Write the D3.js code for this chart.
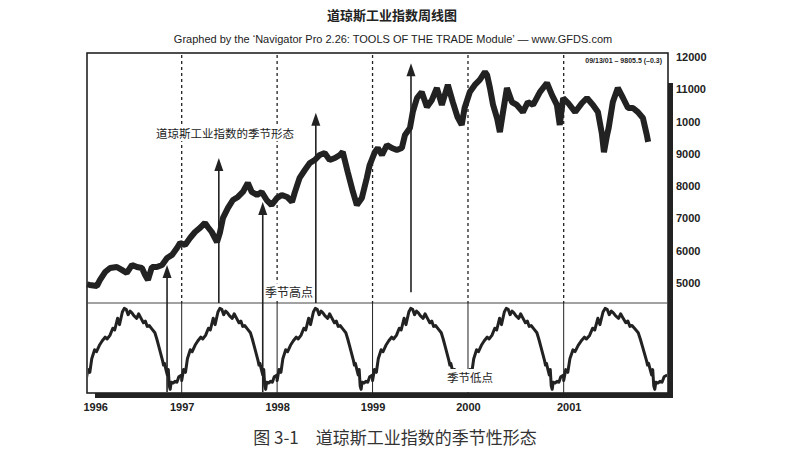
<!DOCTYPE html>
<html>
<head>
<meta charset="utf-8">
<script src="https://cdn.jsdelivr.net/npm/d3@7"></script>
<style>
  body { margin: 0; background: #fff; }
  svg { display: block; font-family: "Liberation Sans", Arial, sans-serif; }
  .cjk { font-family: "Noto Sans CJK SC", sans-serif; }
</style>
</head>
<body>
<svg id="chart" width="786" height="469"></svg>
<script>
// weekly Dow readings
const priceDates = [
  "1996-01-05","1996-01-15","1996-02-12","1996-02-23","1996-03-14","1996-04-02","1996-04-28","1996-05-17","1996-06-05","1996-06-25",
  "1996-07-14","1996-08-02","1996-08-14","1996-08-25","1996-09-09","1996-09-28","1996-10-18","1996-11-06","1996-11-25","1996-12-14","1996-12-26",
  "1997-01-14","1997-02-02","1997-02-21","1997-03-12","1997-03-31","1997-04-11","1997-04-26","1997-05-16","1997-05-27","1997-06-08",
  "1997-06-27","1997-07-16","1997-08-04","1997-08-23","1997-09-11","1997-09-26","1997-10-16","1997-11-03","1997-11-22","1997-12-11",
  "1998-01-01","1998-01-19","1998-02-08","1998-02-27","1998-03-09","1998-03-28","1998-04-17","1998-05-06","1998-05-25","1998-06-13",
  "1998-07-02","1998-07-21","1998-08-10","1998-08-29","1998-09-09","1998-09-28","1998-10-18","1998-11-02","1998-11-21","1998-12-10","1998-12-21",
  "1999-01-10","1999-01-21","1999-02-06","1999-02-25","1999-03-16","1999-04-04","1999-04-23","1999-05-05","1999-05-24","1999-06-04",
  "1999-06-20","1999-07-08","1999-07-28","1999-08-16","1999-09-04","1999-09-23","1999-10-16","1999-11-04","1999-11-22","1999-12-08","1999-12-19",
  "2000-01-08","2000-01-27","2000-02-15","2000-03-06","2000-03-14","2000-03-25","2000-04-06","2000-04-21","2000-05-02","2000-05-14",
  "2000-05-29","2000-06-17","2000-07-06","2000-07-29","2000-08-17","2000-09-06","2000-10-02","2000-10-29","2000-11-17","2000-12-06","2000-12-17","2000-12-30",
  "2001-01-18","2001-02-14","2001-03-12","2001-03-31","2001-04-23","2001-05-12","2001-05-27","2001-06-04","2001-06-16","2001-06-22",
  "2001-07-08","2001-07-27","2001-08-16","2001-09-04","2001-09-23","2001-10-12","2001-10-31","2001-11-15","2001-11-20"
];
const priceValues = [
  4960, 4940, 4910, 5090, 5340, 5465, 5495, 5405, 5310, 5560,
  5495, 5465, 5250, 5095, 5495, 5495, 5560, 5775, 5870, 6085, 6240,
  6180, 6395, 6580, 6705, 6860, 6735, 6580, 6270, 6550, 7015,
  7325, 7570, 7665, 7820, 8100, 7820, 7725, 7820, 7570, 7415,
  7635, 7725, 7665, 7510, 7790, 8255, 8500, 8715, 8810, 8965,
  9025, 8810, 8870, 8965, 9060, 8440, 7820, 7415, 7635, 8255, 8655,
  9060, 9180, 8965, 9275, 9180, 9120, 9180, 9585, 9800, 10300,
  10730, 10915, 10450, 10670, 11040, 10515, 11135, 10605, 10140, 9895, 10420,
  10915, 11135, 11290, 11535, 11445, 11040, 10515, 10110, 9675, 10295,
  11040, 10605, 10515, 10295, 10605, 10515, 10915, 11195, 10825, 10515, 9895, 10730,
  10575, 10295, 10575, 10730, 10515, 10295, 9630, 9050, 9585, 9800,
  10605, 11040, 10730, 10420, 10420, 10295, 10110, 9585, 9370
];

const priceTicks = [5000, 6000, 7000, 8000, 9000, 10000, 11000, 12000];
const priceTickLabels = ["5000", "6000", "7000", "8000", "9000", "1000", "11000", "12000"];
const yearLabels = ["1996", "1997", "1998", "1999", "2000", "2001"];

// one seasonal cycle (share of the cycle, oscillator level 0-100)
const seasonalPos = [0, .02, .04, .06, .09, .11, .14, .17, .20, .22, .25, .28, .30, .33, .35, .38, .40, .42, .44, .46,
  .48, .50, .53, .55, .57, .60, .62, .64, .66, .69, .72, .74, .76, .78, .80, .81, .82, .84, .85, .86, .87, .88, .89, .91, .93, .95, .97, 1];
const seasonalValues = [14, 26, 23, 38, 48, 46, 53, 58, 62, 60, 64, 72, 70, 83, 76, 90, 94, 93, 87, 91,
  89, 86, 83, 88, 84, 78, 80, 74, 75, 71, 67, 60, 52, 44, 36, 31, 33, 24, 20, 26, 8, 4, 12, 11, 13, 12, 18, 20];
const cycleStarts = ["1996-01-01", "1997-01-01", "1998-01-01", "1999-01-01", "2000-01-01", "2001-01-01"];
const cycleEnds   = ["1997-01-01", "1998-01-01", "1999-01-01", "2000-01-01", "2001-01-01", "2002-02-01"];

// arrows: date, price at the head, oscillator level at the tail
const arrowDates = ["1996-11-06", "1997-05-23", "1997-11-07", "1998-05-29", "1999-05-28"];
const arrowTips  = [5560, 8870, 7510, 10270, 11810];
const arrowTails = [1, 100, 1, 100, 112];

const parse = d3.timeParse("%Y-%m-%d");
const svg = d3.select("#chart");
const box = { left: 87, right: 668, top: 53, mid: 303, bottom: 393 };
const ink = "#222";

const x = d3.scaleTime()
  .domain([parse("1996-01-01"), parse("2002-02-04")])
  .range([86, 668]);
const y = d3.scaleLinear().domain([5000, 12000]).range([283, 57]);
const osc = d3.scaleLinear().domain([0, 100]).range([393, 303]);

svg.append("rect").attr("width", 786).attr("height", 469).attr("fill", "#fff");

// titles
svg.append("text").attr("class", "cjk")
  .attr("x", 392).attr("y", 20).attr("text-anchor", "middle")
  .attr("font-size", 13).attr("font-weight", "bold").attr("fill", ink)
  .text("道琼斯工业指数周线图");
svg.append("text")
  .attr("x", 393).attr("y", 43).attr("text-anchor", "middle")
  .attr("font-size", 11).attr("fill", ink)
  .text("Graphed by the \u2018Navigator Pro 2.26: TOOLS OF THE TRADE Module\u2019 \u2014 www.GFDS.com");

// drop shadow of the frame
svg.append("rect").attr("x", 95).attr("y", box.bottom).attr("width", box.right + 5 - 95).attr("height", 5).attr("fill", ink);
svg.append("rect").attr("x", box.right).attr("y", 83).attr("width", 5).attr("height", box.bottom + 5 - 83).attr("fill", ink);

// frame and panel divider
svg.append("rect")
  .attr("x", box.left).attr("y", box.top)
  .attr("width", box.right - box.left).attr("height", box.bottom - box.top)
  .attr("fill", "#fff").attr("stroke", ink).attr("stroke-width", 1.6);
svg.append("line")
  .attr("x1", box.left).attr("x2", box.right).attr("y1", box.mid).attr("y2", box.mid)
  .attr("stroke", "#444").attr("stroke-width", 1);

const years = yearLabels.map(s => parse(s + "-01-01"));

// year separators: dashed above, solid below
svg.append("g").selectAll("line").data(years.slice(1)).join("line")
  .attr("x1", d => x(d)).attr("x2", d => x(d))
  .attr("y1", box.top + 2).attr("y2", box.mid)
  .attr("stroke", ink).attr("stroke-width", 1.3).attr("stroke-dasharray", "3,3");
svg.append("g").selectAll("line").data(years.slice(1)).join("line")
  .attr("x1", d => x(d)).attr("x2", d => x(d))
  .attr("y1", box.mid).attr("y2", box.bottom)
  .attr("stroke", ink).attr("stroke-width", 1);

// seasonal oscillator
const seasonal = [];
cycleStarts.forEach((s, i) => {
  const t0 = parse(s).getTime(), t1 = parse(cycleEnds[i]).getTime();
  seasonalPos.forEach((p, j) => seasonal.push({ date: new Date(t0 + p * (t1 - t0)), value: seasonalValues[j] }));
});
svg.append("clipPath").attr("id", "lowClip").append("rect")
  .attr("x", box.left + 1).attr("y", box.mid).attr("width", box.right - box.left - 2).attr("height", box.bottom - box.mid);
svg.append("path")
  .datum(seasonal)
  .attr("clip-path", "url(#lowClip)")
  .attr("fill", "none").attr("stroke", ink).attr("stroke-width", 3).attr("stroke-linejoin", "round")
  .attr("d", d3.line().x(d => x(d.date)).y(d => osc(d.value)));

// arrows
const arrows = arrowDates.map((d, i) => ({ date: parse(d), tip: arrowTips[i], tail: arrowTails[i] }));
const ag = svg.append("g");
ag.selectAll("line").data(arrows).join("line")
  .attr("x1", d => x(d.date)).attr("x2", d => x(d.date))
  .attr("y1", d => osc(d.tail)).attr("y2", d => y(d.tip) + 8)
  .attr("stroke", ink).attr("stroke-width", 1.6);
ag.selectAll("path").data(arrows).join("path")
  .attr("fill", ink)
  .attr("d", d => {
    const px = x(d.date), py = y(d.tip);
    return `M${px},${py}L${px + 4.5},${py + 13}L${px - 4.5},${py + 13}Z`;
  });

// price line
svg.append("path")
  .datum(priceDates.map((d, i) => ({ date: parse(d), value: priceValues[i] })))
  .attr("fill", "none").attr("stroke", ink).attr("stroke-width", 6).attr("stroke-linejoin", "bevel")
  .attr("d", d3.line().x(d => x(d.date)).y(d => y(d.value)));

// annotations with paper behind them
function note(text, cx, cy, size) {
  const g = svg.append("g");
  const t = g.append("text").attr("class", "cjk")
    .attr("x", cx).attr("y", cy).attr("text-anchor", "middle").attr("dy", "0.36em")
    .attr("font-size", size).attr("fill", ink).text(text);
  const b = t.node().getBBox();
  g.insert("rect", "text").attr("x", b.x - 1).attr("y", b.y).attr("width", b.width + 2).attr("height", b.height).attr("fill", "#fff");
  return g;
}
note("道琼斯工业指数的季节形态", 225, 134, 11.5);
note("季节高点", 289, 293, 12);
const low = note("季节低点", 470, 378, 11.5);
low.insert("rect", "text").attr("x", 446).attr("y", 369).attr("width", 50).attr("height", box.bottom - 370).attr("fill", "#fff");

svg.append("text")
  .attr("x", 662).attr("y", 63).attr("text-anchor", "end")
  .attr("font-size", 7).attr("font-weight", "bold").attr("fill", ink)
  .text("09/13/01 \u2013 9805.5 (\u20130.3)");

// price axis on the right
svg.append("g")
  .attr("transform", `translate(${box.right},0)`)
  .call(d3.axisRight(y).tickValues(priceTicks).tickSize(0).tickPadding(8)
    .tickFormat((d, i) => priceTickLabels[i]))
  .call(g => g.select(".domain").remove())
  .call(g => g.selectAll("text")
    .attr("font-family", "Liberation Sans, Arial, sans-serif")
    .attr("font-size", 11).attr("font-weight", "bold").attr("fill", ink));

// year axis
svg.append("g")
  .attr("transform", `translate(0,${box.bottom + 6})`)
  .call(d3.axisBottom(x).tickValues(years).tickSize(0).tickPadding(4)
    .tickFormat((d, i) => yearLabels[i]))
  .call(g => g.select(".domain").remove())
  .call(g => g.selectAll("text")
    .attr("font-family", "Liberation Sans, Arial, sans-serif")
    .attr("font-size", 11).attr("font-weight", "bold").attr("fill", ink)
    .attr("text-anchor", (d, i) => i === 0 ? "start" : "middle")
    .attr("dx", (d, i) => i === 0 ? -3 : (i === yearLabels.length - 1 ? 5 : 0)));

// caption
svg.append("text").attr("class", "cjk")
  .attr("x", 395).attr("y", 444).attr("text-anchor", "middle")
  .attr("font-size", 17).attr("fill", "#333")
  .text("图 3-1\u3000道琼斯工业指数的季节性形态");
</script>
</body>
</html>
